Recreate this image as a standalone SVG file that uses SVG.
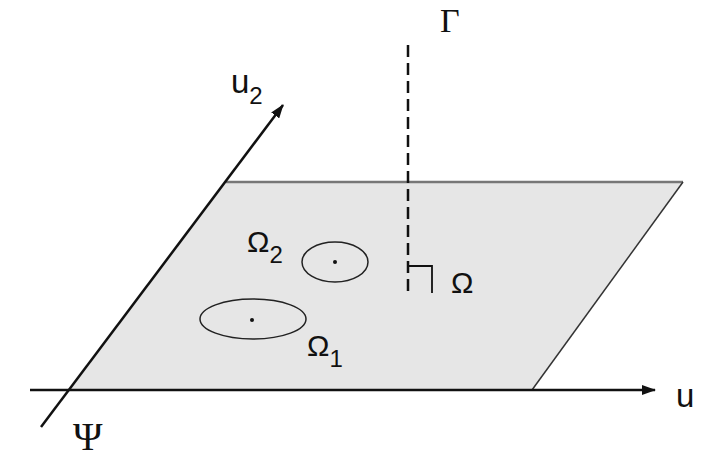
<svg xmlns="http://www.w3.org/2000/svg" width="705" height="459" viewBox="0 0 705 459">
<defs>
<marker id="arr" viewBox="0 0 14 10" refX="13" refY="5" markerWidth="14" markerHeight="10" markerUnits="userSpaceOnUse" orient="auto">
<path d="M0,0 L14,5 L0,10 Z" fill="#111"/>
</marker>
<style>
.sans{font-family:"Liberation Sans",Arial,sans-serif;fill:#111}
.serif{font-family:"Liberation Serif","Times New Roman",serif;fill:#111}
.ax{stroke:#111;stroke-width:2.5;fill:none}
</style>
</defs>
<rect width="705" height="459" fill="#fff"/>
<g id="plane">
<polygon points="226,182 683,182 532,390 68,390" fill="#e6e6e6"/>
<line x1="226" y1="182" x2="683" y2="182" stroke="#777" stroke-width="2.5"/>
<line x1="683" y1="182" x2="532" y2="390" stroke="#333" stroke-width="1.5"/>
</g>
<g id="connectors">
<line class="ax" x1="30" y1="390" x2="655" y2="390" marker-end="url(#arr)"/>
<line class="ax" x1="41" y1="427" x2="283" y2="105" marker-end="url(#arr)"/>
<line x1="408" y1="45" x2="408" y2="295" stroke="#111" stroke-width="2.5" stroke-dasharray="12,6"/>
<polyline points="408,266 432,266 432,293" fill="none" stroke="#111" stroke-width="1.8"/>
</g>
<g id="omega2">
<ellipse cx="335" cy="262" rx="33" ry="20" fill="none" stroke="#222" stroke-width="1.5"/>
<circle cx="335" cy="262" r="2" fill="#111"/>
<text class="sans" x="247" y="252" font-size="30">Ω<tspan font-size="24" dy="11">2</tspan></text>
</g>
<g id="omega1">
<ellipse cx="253" cy="319" rx="53" ry="20" fill="none" stroke="#222" stroke-width="1.5"/>
<circle cx="252" cy="320" r="2" fill="#111"/>
<text class="sans" x="307" y="356" font-size="30">Ω<tspan font-size="24" dy="11">1</tspan></text>
</g>
<g id="omega">
<text class="sans" x="451" y="293" font-size="30">Ω</text>
</g>
<g id="labels">
<text class="serif" x="440" y="32" font-size="34">Γ</text>
<text class="sans" x="231" y="93" font-size="33">u<tspan font-size="24" dy="11">2</tspan></text>
<text class="sans" x="676" y="407" font-size="33">u</text>
<text class="serif" x="73" y="450" font-size="40">Ψ</text>
</g>
</svg>
